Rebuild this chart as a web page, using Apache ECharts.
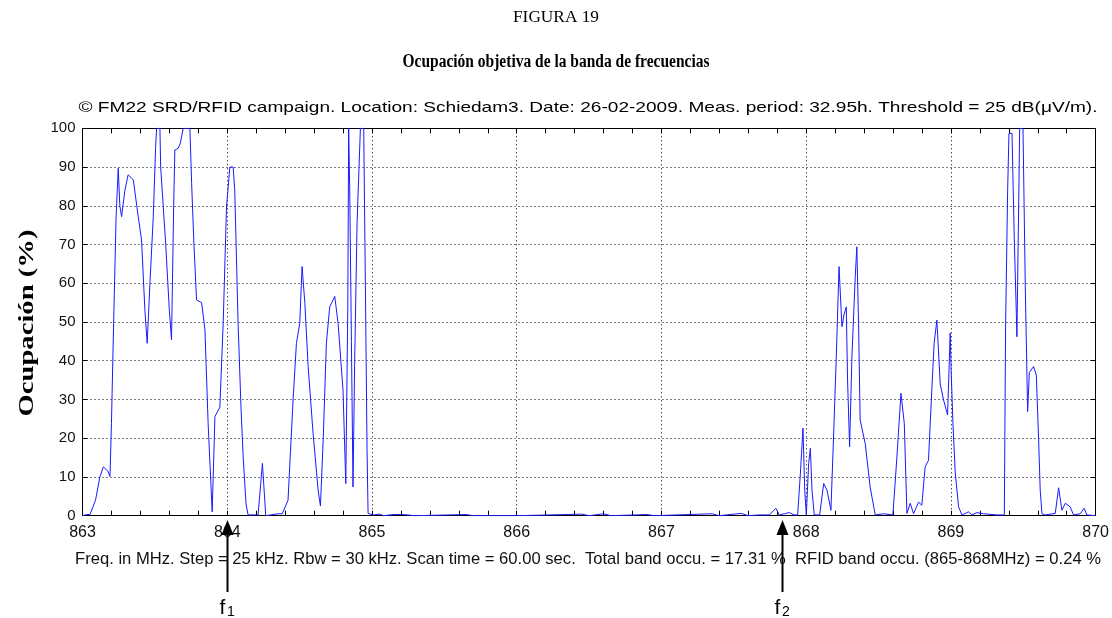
<!DOCTYPE html>
<html>
<head>
<meta charset="utf-8">
<script src="https://cdn.jsdelivr.net/npm/echarts@6/dist/echarts.min.js"></script>
<style>
  html, body { margin: 0; padding: 0; background: #fff; }
  #chart { width: 1112px; height: 618px; }
</style>
</head>
<body>
<div id="chart"></div>
<script>
// datos: frecuencia (MHz) y ocupación (%)
const freqs = [
  863.000, 863.030, 863.052, 863.090, 863.120, 863.144, 863.175, 863.190, 863.200, 863.215,
  863.232, 863.247, 863.258, 863.270, 863.293, 863.315, 863.328, 863.351, 863.385, 863.408,
  863.431, 863.447, 863.466, 863.489, 863.505, 863.512, 863.535, 863.540, 863.575, 863.600,
  863.615, 863.630, 863.638, 863.660, 863.675, 863.696, 863.742, 863.754, 863.770, 863.788,
  863.823, 863.846, 863.868, 863.896, 863.915, 863.949, 863.972, 863.995, 864.018, 864.041,
  864.052, 864.075, 864.095, 864.110, 864.130, 864.144, 864.213, 864.243, 864.266, 864.351,
  864.380, 864.420, 864.455, 864.478, 864.501, 864.517, 864.536, 864.559, 864.593, 864.628,
  864.644, 864.663, 864.685, 864.708, 864.743, 864.766, 864.800, 864.819, 864.833, 864.839,
  864.846, 864.858, 864.869, 864.881, 864.897, 864.920, 864.943, 864.957, 864.966, 864.973,
  865.008, 865.053, 865.080, 865.146, 865.215, 865.300, 865.650, 865.700, 866.000, 866.450,
  866.500, 866.600, 866.650, 866.900, 866.950, 867.350, 867.400, 867.550, 867.600, 867.676,
  867.745, 867.791, 867.814, 867.850, 867.883, 867.917, 867.941, 867.960, 867.978, 867.990,
  868.001, 868.017, 868.029, 868.040, 868.056, 868.093, 868.121, 868.144, 868.171, 868.190,
  868.208, 868.227, 868.247, 868.262, 868.277, 868.286, 868.300, 868.316, 868.339, 868.350,
  868.362, 868.373, 868.408, 868.442, 868.477, 868.534, 868.599, 868.627, 868.655, 868.678,
  868.696, 868.719, 868.742, 868.776, 868.799, 868.822, 868.845, 868.868, 868.884, 868.903,
  868.926, 868.949, 868.977, 868.995, 869.002, 869.014, 869.030, 869.053, 869.076, 869.122,
  869.145, 869.180, 869.226, 869.318, 869.369, 869.378, 869.392, 869.401, 869.422, 869.438,
  869.452, 869.456, 869.468, 869.475, 869.498, 869.514, 869.530, 869.542, 869.571, 869.590,
  869.606, 869.617, 869.629, 869.652, 869.721, 869.744, 869.767, 869.790, 869.824, 869.847,
  869.893, 869.921, 869.939, 870.000
];
const occupancy = [
  0, 0.3, 0.3, 4, 10, 12.6, 11.5, 10.1, 23.8, 49.6,
  77, 89.7, 80, 77.2, 84, 88, 88.4, 86.7, 77.2, 71.2,
  53.1, 44.5, 60, 77.2, 95, 100, 100, 90, 70, 53,
  45.4, 80, 94.4, 94.8, 96, 100, 100, 85.8, 70, 55.7,
  55, 48, 23.8, 1, 25.6, 28, 49.6, 79.7, 90, 90,
  84, 49.6, 28, 15.2, 3, 0.2, 0.2, 13.5, 0, 0.5,
  0.5, 4, 29.9, 44.5, 49.6, 64.3, 55, 38.5, 21.3, 6.6,
  2.5, 19.6, 44.5, 53.9, 56.6, 49.6, 32.4, 8.3, 53.9, 100,
  85, 45, 7.4, 41, 75.5, 100, 100, 50.5, 17, 0.6,
  0.2, 0.4, 0, 0.3, 0.3, 0, 0.3, 0, 0, 0.4,
  0, 0.5, 0, 0.3, 0, 0.5, 0, 0.6, 0, 0.2,
  0.2, 1.9, 0.2, 0.5, 0.8, 0.2, 0.2, 11, 22.6, 6.6,
  0.2, 13.5, 17.4, 6.6, 0.2, 0.2, 8.3, 6.6, 1.4, 21.3,
  41, 64.3, 48.8, 52, 53.9, 35, 17.8, 41, 61.7, 69.4,
  49.6, 24.7, 18.6, 7.4, 0.2, 0.5, 0.2, 15.2, 31.6, 23.8,
  0.6, 3.2, 0.5, 3.5, 2.7, 12.6, 14.3, 32.4, 44.5, 50.5,
  34, 29.9, 26, 47.2, 37, 23.8, 11, 2.3, 0.2, 1,
  0.2, 0.8, 0.5, 0.2, 0.2, 49.6, 84, 98.7, 98.7, 71.2,
  52.2, 46.2, 79.7, 100, 100, 58.8, 26.9, 37, 38.5, 36.3,
  19.6, 6.6, 0.5, 0.2, 0.6, 7.2, 1.4, 3.2, 2.3, 0.2,
  0.5, 1.9, 0.2, 0
];

// frecuencias marcadas con flecha (f1, f2)
const markerFreqs = [864.0, 867.835];
const markerNames = ['1', '2'];

const figLabel = 'FIGURA 19';
const figTitle = 'Ocupación objetiva de la banda de frecuencias';
const campaignText = '© FM22 SRD/RFID campaign. Location: Schiedam3. Date: 26-02-2009. Meas. period: 32.95h. Threshold = 25 dB(μV/m).';
const footerText = 'Freq. in MHz. Step = 25 kHz. Rbw = 30 kHz. Scan time = 60.00 sec.  Total band occu. = 17.31 %  RFID band occu. (865-868MHz) = 0.24 %';
const yName = 'Ocupación (%)';

const SANS = '"Liberation Sans", Arial, sans-serif';
const SERIF = '"Liberation Serif", "Times New Roman", serif';

// escala horizontal para que un texto ocupe un ancho dado
const mctx = document.createElement('canvas').getContext('2d');
function fitScale(text, font, width) {
  mctx.font = font;
  return width / mctx.measureText(text).width;
}

const chart = echarts.init(document.getElementById('chart'));

const dotted = { color: '#000', width: 1, type: [1, 3] };
const black = { color: '#000', width: 1 };

const points = freqs.map((f, i) => [f, occupancy[i]]);

chart.setOption({
  animation: false,
  grid: { left: 82.5, right: 15.3, top: 128.3, bottom: 102.3, containLabel: false },
  xAxis: [
    {
      type: 'value', min: 863, max: 870, interval: 1, position: 'bottom',
      axisLine: { show: true, onZero: false, lineStyle: black },
      axisTick: { show: true, inside: true, length: 5, lineStyle: black },
      minorTick: { show: true, splitNumber: 5, length: 5, lineStyle: black },
      axisLabel: { fontSize: 16, color: '#111', fontFamily: SANS, margin: 9 },
      splitLine: { show: true, lineStyle: dotted }
    },
    {
      type: 'value', min: 863, max: 870, interval: 1, position: 'top',
      axisLine: { show: true, onZero: false, lineStyle: black },
      axisTick: { show: true, inside: true, length: 5, lineStyle: black },
      minorTick: { show: true, splitNumber: 5, length: 5, lineStyle: black },
      axisLabel: { show: false },
      splitLine: { show: false }
    }
  ],
  yAxis: [
    {
      type: 'value', min: 0, max: 100, interval: 10, position: 'left',
      axisLine: { show: true, onZero: false, lineStyle: black },
      axisTick: { show: true, inside: true, length: 5, lineStyle: black },
      axisLabel: { fontSize: 15, color: '#111', fontFamily: SANS, margin: 7 },
      splitLine: { show: true, lineStyle: dotted }
    },
    {
      type: 'value', min: 0, max: 100, interval: 10, position: 'right',
      axisLine: { show: true, onZero: false, lineStyle: black },
      axisTick: { show: true, inside: true, length: 5, lineStyle: black },
      axisLabel: { show: false },
      splitLine: { show: false }
    }
  ],
  series: [{
    type: 'line',
    xAxisIndex: 0,
    yAxisIndex: 0,
    data: points,
    showSymbol: false,
    symbol: 'none',
    lineStyle: { color: '#1a1aff', width: 1 },
    z: 3
  }]
});

// textos y flechas
const fCampaign = '15px ' + SANS;
const fFooter = '17px ' + SANS;
const fFig = '17px ' + SERIF;
const fTitle = 'bold 18px ' + SERIF;
const fYName = 'bold 22px ' + SERIF;

const graphics = [
  { type: 'text', x: 556, y: 18, scaleX: fitScale(figLabel, fFig, 86),
    style: { text: figLabel, font: fFig, fill: '#000', align: 'center', verticalAlign: 'middle' } },
  { type: 'text', x: 556, y: 62, scaleX: fitScale(figTitle, fTitle, 307),
    style: { text: figTitle, font: fTitle, fill: '#000', align: 'center', verticalAlign: 'middle' } },
  { type: 'text', x: 588, y: 108, scaleX: fitScale(campaignText, fCampaign, 1019),
    style: { text: campaignText, font: fCampaign, fill: '#000', align: 'center', verticalAlign: 'middle' } },
  { type: 'text', x: 588, y: 559, scaleX: fitScale(footerText, fFooter, 1026),
    style: { text: footerText, font: fFooter, fill: '#111', align: 'center', verticalAlign: 'middle' } },
  { type: 'text', x: 27, y: 323, rotation: Math.PI / 2, scaleX: fitScale(yName, fYName, 187),
    style: { text: yName, font: fYName, fill: '#000', align: 'center', verticalAlign: 'middle' } }
];

markerFreqs.forEach((f, i) => {
  const px = Math.round(chart.convertToPixel({ xAxisIndex: 0 }, f)) + 0.5;
  graphics.push(
    { type: 'line', shape: { x1: px, y1: 592, x2: px, y2: 532 }, style: { stroke: '#000', lineWidth: 2 }, z: 10 },
    { type: 'polygon', shape: { points: [[px, 520], [px - 6, 535], [px + 6, 535]] }, style: { fill: '#000' }, z: 10 },
    { type: 'text', x: px - 5, y: 608, style: { text: 'f', font: '21px ' + SANS, fill: '#000', align: 'center', verticalAlign: 'middle' }, z: 10 },
    { type: 'text', x: px + 3.5, y: 612, style: { text: markerNames[i], font: '14px ' + SANS, fill: '#000', align: 'center', verticalAlign: 'middle' }, z: 10 }
  );
});

chart.setOption({ graphic: graphics });
</script>
</body>
</html>
